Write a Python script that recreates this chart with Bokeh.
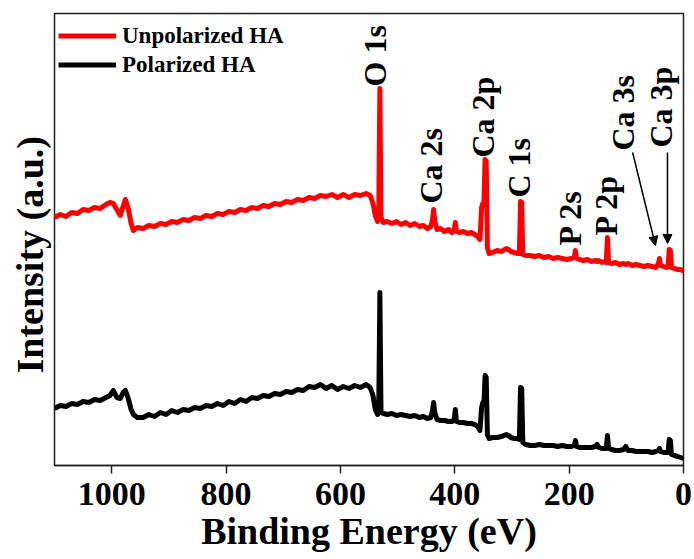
import math
from bokeh.plotting import figure
from bokeh.models import (Range1d, FixedTicker, Legend, LegendItem, Title,
                          Arrow, NormalHead, ColumnDataSource)
from bokeh.core.properties import value
from bokeh.embed import file_html
from bokeh.resources import INLINE

# ---------------- data ----------------
energy = [
    1100, 1090, 1080, 1070, 1060, 1050, 1040, 1030, 1020, 1010,
    1003, 997, 991, 985, 980, 976, 971, 966, 962, 955,
    945, 935, 925, 915, 905, 895, 885, 875, 865, 855,
    845, 835, 825, 815, 805, 795, 785, 775, 765, 755,
    745, 735, 725, 715, 705, 695, 685, 675, 665, 655,
    645, 635, 625, 615, 605, 595, 585, 575, 565, 555,
    548, 543, 539, 535, 533, 531, 529, 525, 518, 510,
    502, 494, 486, 478, 470, 462, 455, 448, 442, 439,
    437, 435, 431, 425, 418, 411, 405, 401, 399, 397,
    392, 385, 378, 371, 365, 360, 356, 353, 351, 349,
    347, 345, 343, 340, 334, 326, 318, 310, 306, 302,
    296, 290, 287, 285, 283, 281, 276, 268, 260, 252,
    244, 236, 228, 220, 212, 204, 196, 191, 189, 187,
    182, 175, 168, 161, 154, 151, 148, 143, 138, 135,
    133, 131, 126, 119, 112, 105, 101, 97, 90, 83,
    76, 69, 62, 55, 48, 44, 42, 40, 35, 30,
    27, 25, 23, 21, 16, 10, 5, 0,
]

unpolarized = [
    248, 251, 249, 253, 252, 256, 255, 258, 257, 261,
    263, 262, 256, 250, 259, 266, 257, 242, 235, 238,
    237, 240, 239, 242, 241, 244, 243, 246, 245, 248,
    247, 250, 249, 252, 251, 254, 253, 256, 255, 258,
    257, 260, 259, 262, 261, 264, 263, 266, 265, 268,
    267, 270, 269, 271, 268, 271, 268, 271, 270, 272,
    270, 262, 250, 244, 247, 377, 248, 243, 244, 242,
    244, 241, 243, 240, 242, 239, 240, 237, 239, 245,
    256, 244, 236, 237, 234, 236, 233, 235, 243, 234,
    233, 234, 232, 233, 231, 229, 226, 258, 262, 262,
    306, 304, 218, 212, 213, 215, 214, 217, 216, 214,
    213, 212, 212, 264, 263, 211, 210, 210, 209, 210,
    208, 209, 207, 208, 207, 206, 207, 208, 215, 207,
    206, 205, 206, 204, 205, 204, 205, 203, 204, 203,
    228, 203, 202, 203, 201, 202, 201, 202, 200, 201,
    200, 199, 200, 199, 198, 202, 207, 200, 199, 198,
    199, 216, 215, 198, 197, 196, 196, 194,
]

polarized = [
    57, 60, 59, 62, 61, 64, 63, 66, 65, 68,
    70, 75, 68, 67, 73, 75, 67, 56, 51, 48,
    48, 51, 49, 53, 51, 55, 53, 56, 55, 58,
    57, 60, 59, 62, 60, 64, 62, 66, 64, 68,
    67, 70, 69, 72, 71, 74, 73, 76, 75, 79,
    78, 81, 77, 80, 76, 79, 77, 80, 78, 81,
    78, 70, 56, 51, 53, 173, 53, 52, 51, 52,
    50, 51, 50, 49, 50, 48, 49, 47, 48, 55,
    63, 53, 46, 45, 45, 44, 44, 46, 56, 44,
    43, 43, 42, 42, 41, 39, 35, 58, 63, 62,
    90, 88, 31, 27, 28, 28, 29, 31, 30, 28,
    27, 27, 26, 78, 77, 23, 21, 20, 20, 21,
    20, 20, 20, 19, 20, 19, 19, 20, 25, 19,
    18, 18, 18, 18, 19, 21, 18, 17, 17, 17,
    30, 17, 16, 15, 15, 16, 19, 15, 15, 14,
    14, 14, 14, 13, 14, 15, 17, 14, 13, 13,
    13, 26, 25, 11, 10, 9, 8, 7,
]

x_ticks = [0, 200, 400, 600, 800, 1000]

peak_names = ["O 1s", "Ca 2s", "Ca 2p", "C 1s", "P 2s", "P 2p", "Ca 3s", "Ca 3p"]
peak_label_x = [539, 441, 351, 288, 199, 136, 105, 40]
peak_label_y = [379, 262, 308, 268, 220, 230, 315, 318]

arrow_x_start = [89, 28]
arrow_y_start = [313, 313]
arrow_x_end = [49, 28]
arrow_y_end = [220, 222]

FONT = "Liberation Serif"

# ---------------- figure ----------------
p = figure(width=694, height=559,
           x_range=Range1d(1100, 0), y_range=Range1d(0, 452),
           output_backend="svg", toolbar_location=None,
           y_axis_location=None,
           min_border_left=54, min_border_right=11,
           min_border_top=13, min_border_bottom=94)
p.xgrid.visible = False
p.ygrid.visible = False
p.outline_line_color = "#222222"
p.outline_line_width = 1.5
p.background_fill_color = "white"
p.border_fill_color = "white"

r_red = p.line(energy, unpolarized, line_color="#ff0000", line_width=5,
               line_join="round")
r_black = p.line(energy, polarized, line_color="#000000", line_width=5,
                 line_join="round")

# x axis
xa = p.xaxis[0]
xa.ticker = FixedTicker(ticks=x_ticks)
xa.major_tick_out = 8
xa.major_tick_in = 0
xa.minor_tick_out = 0
xa.minor_tick_in = 0
xa.axis_line_width = 1.5
xa.axis_line_color = "#222222"
xa.major_tick_line_width = 1.5
xa.major_tick_line_color = "#222222"
xa.major_label_text_font = FONT
xa.major_label_text_font_style = "bold"
xa.major_label_text_font_size = "34px"
xa.major_label_text_color = "black"
xa.major_label_standoff = 9
xa.axis_label = "Binding Energy (eV)"
xa.axis_label_text_font = FONT
xa.axis_label_text_font_style = "bold"
xa.axis_label_text_font_size = "38px"
xa.axis_label_text_color = "black"
xa.axis_label_standoff = 2

# y-axis title (the y axis itself carries no ticks or labels)
ytitle = Title(text="Intensity (a.u.)", align="left", offset=92,
               standoff=8, text_font=FONT, text_font_style="bold",
               text_font_size="38px", text_color="black")
p.add_layout(ytitle, "left")

# peak labels
src = ColumnDataSource(dict(x=peak_label_x, y=peak_label_y, t=peak_names))
p.text(x="x", y="y", text="t", source=src, angle=math.pi / 2,
       text_align="left", text_baseline="middle",
       text_font=value(FONT), text_font_style="bold",
       text_font_size="32px", text_color="black")

for xs, ys, xe, ye in zip(arrow_x_start, arrow_y_start, arrow_x_end, arrow_y_end):
    p.add_layout(Arrow(x_start=xs, y_start=ys, x_end=xe, y_end=ye,
                       line_width=1.5, line_color="black",
                       end=NormalHead(size=9, fill_color="black",
                                      line_color="black", line_width=1)))

legend = Legend(items=[LegendItem(label="Unpolarized HA", renderers=[r_red]),
                       LegendItem(label="Polarized HA", renderers=[r_black])],
                location=(4, 386), border_line_color=None,
                background_fill_alpha=0,
                glyph_width=58, glyph_height=29, label_height=29,
                spacing=0, padding=6, margin=0, label_standoff=6,
                label_text_font=FONT, label_text_font_style="bold",
                label_text_font_size="23px", label_text_color="black")
p.add_layout(legend)

open("out.html", "w").write(file_html(p, INLINE))
